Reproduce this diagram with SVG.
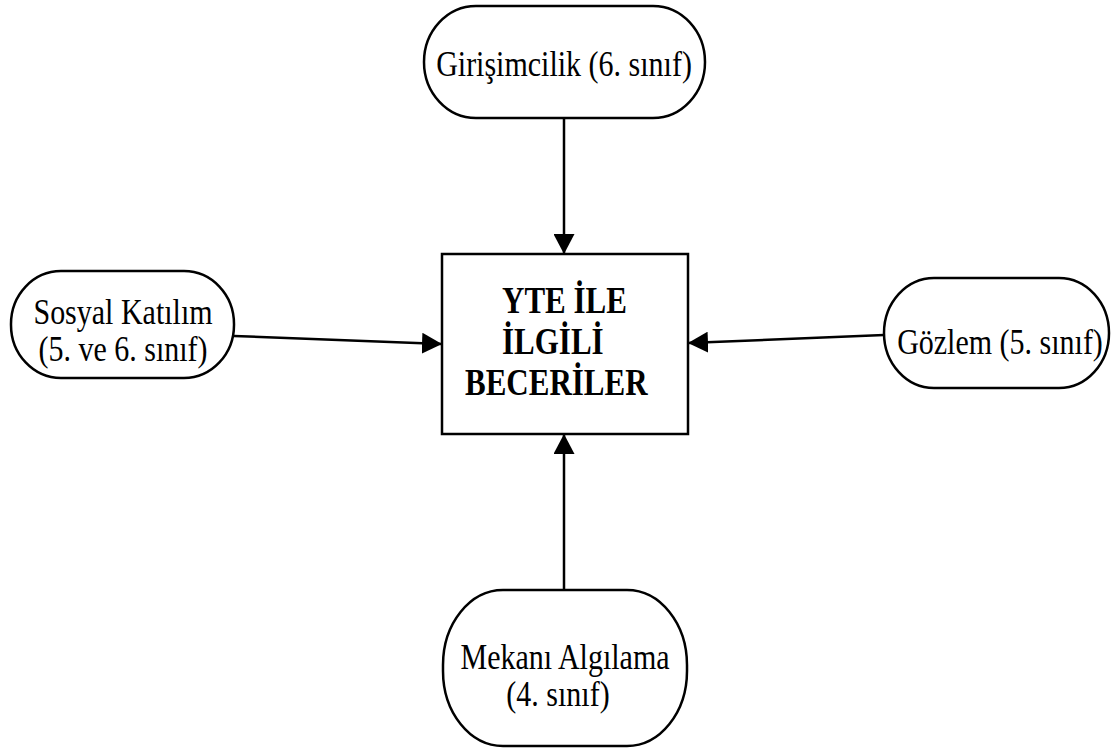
<svg xmlns="http://www.w3.org/2000/svg" width="1113" height="749" viewBox="0 0 1113 749">
<defs>
<style>
.node{fill:#fff;stroke:#000;stroke-width:2.5}
.t{font-family:"Liberation Serif","Times New Roman",serif;font-size:30px;fill:#000}
.b{font-family:"Liberation Serif","Times New Roman",serif;font-size:31px;font-weight:bold;fill:#000}
.c{stroke:#000;stroke-width:2.5;fill:none}
</style>
<marker id="ah" markerWidth="20" markerHeight="21" refX="20" refY="10.5" orient="auto" markerUnits="userSpaceOnUse">
<path d="M0,0 L20,10.5 L0,21 Z" fill="#000"/>
</marker>
</defs>
<rect width="1113" height="749" fill="#fff"/>
<g id="connectors">
<line class="c" x1="564" y1="118" x2="564" y2="254" marker-end="url(#ah)"/>
<line class="c" x1="234" y1="336" x2="442" y2="344" marker-end="url(#ah)"/>
<line class="c" x1="884" y1="335" x2="688" y2="343" marker-end="url(#ah)"/>
<line class="c" x1="564" y1="590" x2="564" y2="434" marker-end="url(#ah)"/>
</g>
<g id="center">
<rect class="node" x="442" y="254" width="246" height="180"/>
<text class="b" transform="translate(502,313) scale(1,1.22)">YTE İLE</text>
<text class="b" transform="translate(502,354) scale(1,1.22)">İLGİLİ</text>
<text class="b" transform="translate(465,395) scale(1,1.22)">BECERİLER</text>
</g>
<g id="girisimcilik">
<rect class="node" x="424" y="6" width="281" height="112" rx="52" ry="56"/>
<text class="t" text-anchor="middle" transform="translate(564,76) scale(1,1.22)">Girişimcilik (6. sınıf)</text>
</g>
<g id="sosyal">
<rect class="node" x="11" y="271" width="223" height="107" rx="50" ry="53"/>
<text class="t" text-anchor="middle" transform="translate(123,324) scale(1,1.22)">Sosyal Katılım</text>
<text class="t" text-anchor="middle" transform="translate(123,361) scale(1,1.22)">(5. ve 6. sınıf)</text>
</g>
<g id="gozlem">
<rect class="node" x="884" y="278" width="225" height="110" rx="50" ry="55"/>
<text class="t" text-anchor="middle" transform="translate(1000,354) scale(1,1.22)">Gözlem (5. sınıf)</text>
</g>
<g id="mekan">
<rect class="node" x="443" y="590" width="244" height="156" rx="60" ry="75"/>
<text class="t" text-anchor="middle" transform="translate(565,669) scale(1,1.22)">Mekanı Algılama</text>
<text class="t" text-anchor="middle" transform="translate(558,706) scale(1,1.22)">(4. sınıf)</text>
</g>
</svg>
